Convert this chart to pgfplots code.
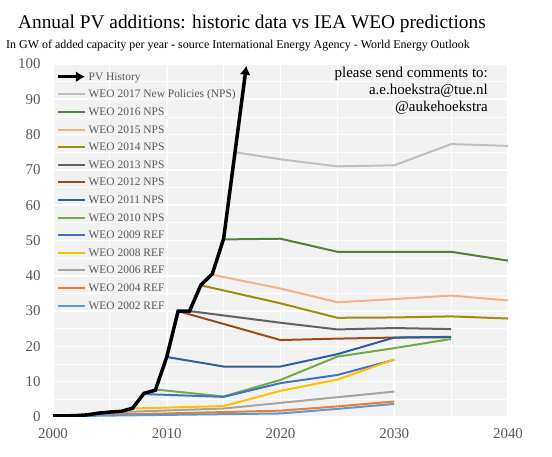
\documentclass[border=0pt]{standalone}
\usepackage{fontspec}
\setmainfont{Liberation Serif}
\usepackage{pgfplots}
\pgfplotsset{compat=1.18}
\usetikzlibrary{arrows.meta}
\definecolor{bgc}{HTML}{F2F2F2}
\definecolor{tickc}{HTML}{595959}
\definecolor{c17}{HTML}{BFBFBF}
\definecolor{c16}{HTML}{548235}
\definecolor{c15}{HTML}{F4B183}
\definecolor{c14}{HTML}{A08C10}
\definecolor{c13}{HTML}{636363}
\definecolor{c12}{HTML}{9E4A1C}
\definecolor{c11}{HTML}{2F5F9E}
\definecolor{c10}{HTML}{70AD47}
\definecolor{c09}{HTML}{4472C4}
\definecolor{c08}{HTML}{FFC000}
\definecolor{c06}{HTML}{A5A5A5}
\definecolor{c04}{HTML}{ED7D31}
\definecolor{c02}{HTML}{5B9BD5}
\begin{document}
\begin{tikzpicture}[x=1bp,y=1bp]
\path[use as bounding box] (0,0) rectangle (552,457);
\node[anchor=base west,inner sep=0pt,font=\fontsize{19.4}{23}\selectfont] at (18,428) {Annual PV additions: historic data vs IEA WEO predictions};
\node[anchor=base west,inner sep=0pt,font=\fontsize{12}{14}\selectfont] at (6,408) {In GW of added capacity per year - source International Energy Agency - World Energy Outlook};
\begin{axis}[
  at={(53bp,40bp)}, anchor=south west,
  scale only axis, width=455bp, height=353bp,
  xmin=2000, xmax=2040, ymin=0, ymax=100,
  xtick={2000,2010,2020,2030,2040},
  ytick={0,10,...,100},
  minor tick num=1,
  grid=both,
  major grid style={white, line width=1.6bp},
  minor grid style={white, line width=0.8bp},
  axis line style={draw=none},
  major tick length=0pt, minor tick length=0pt,
  axis background/.style={fill=bgc},
  /pgf/number format/assume math mode=true,
  /pgf/number format/1000 sep={},
  tick label style={font=\fontsize{15}{17}\selectfont, text=tickc},
  yticklabel style={xshift=-9bp},
  xticklabel style={yshift=-8bp},
  clip=true,
  legend style={at={(0.0,0.995)}, anchor=north west, draw=none, fill=none,
    font=\fontsize{11.5}{13}\selectfont, text=tickc,
    nodes={inner ysep=2.8bp, text height=9.5bp, text depth=2.5bp},
    row sep=0pt},
  legend cell align=left,
  legend image code/.code={\draw[#1] (0bp,0bp) -- (27bp,0bp);},
  every axis plot/.append style={line width=2bp},
]
\addplot[black, line width=3.5bp, legend image code/.code={\draw[black,line width=3.5bp,-{Latex[length=9bp,width=11bp]}] (0bp,0bp) -- (27bp,0bp);}] coordinates {(2000,0.3)};
\addlegendentry{PV History}
\addplot[c17] coordinates {(2016,75) (2020,73) (2025,71) (2030,71.3) (2035,77.3) (2040,76.8)};
\addlegendentry{WEO 2017 New Policies (NPS)}
\addplot[c16] coordinates {(2015,50.3) (2020,50.5) (2025,46.8) (2030,46.8) (2035,46.8) (2040,44.3)};
\addlegendentry{WEO 2016 NPS}
\addplot[c15] coordinates {(2014,40.3) (2020,36.4) (2025,32.5) (2030,33.4) (2035,34.4) (2040,33)};
\addlegendentry{WEO 2015 NPS}
\addplot[c14] coordinates {(2013,37.3) (2020,32.2) (2025,28.1) (2030,28.2) (2035,28.5) (2040,27.9)};
\addlegendentry{WEO 2014 NPS}
\addplot[c13] coordinates {(2012,30) (2020,26.7) (2025,24.8) (2030,25.2) (2035,24.9)};
\addlegendentry{WEO 2013 NPS}
\addplot[c12] coordinates {(2011,30) (2020,21.8) (2025,22.2) (2030,22.5) (2035,22.6)};
\addlegendentry{WEO 2012 NPS}
\addplot[c11] coordinates {(2010,17) (2015,14.3) (2020,14.3) (2025,17.8) (2030,22.5) (2035,22.7)};
\addlegendentry{WEO 2011 NPS}
\addplot[c10] coordinates {(2009,7.8) (2015,5.8) (2020,10.5) (2025,17.1) (2030,19.5) (2035,22.1)};
\addlegendentry{WEO 2010 NPS}
\addplot[c09] coordinates {(2008,6.5) (2015,5.7) (2020,9.6) (2025,11.9) (2030,16.2)};
\addlegendentry{WEO 2009 REF}
\addplot[c08] coordinates {(2007,2.4) (2015,3.1) (2020,7.4) (2025,10.6) (2030,16.3)};
\addlegendentry{WEO 2008 REF}
\addplot[c06] coordinates {(2005,1.3) (2015,2.4) (2020,4.0) (2025,5.6) (2030,7.2)};
\addlegendentry{WEO 2006 REF}
\addplot[c04] coordinates {(2003,0.6) (2010,1.0) (2020,1.8) (2025,3.0) (2030,4.4)};
\addlegendentry{WEO 2004 REF}
\addplot[c02] coordinates {(2000,0.2) (2010,0.6) (2020,1.0) (2025,2.3) (2030,3.7)};
\addlegendentry{WEO 2002 REF}
\addplot[black, line width=3.5bp, -{Latex[length=9bp,width=11bp]}, forget plot] coordinates {
(2000,0.3) (2001,0.3) (2002,0.4) (2003,0.6) (2004,1.1) (2005,1.4) (2006,1.6) (2007,2.5)
(2008,6.7) (2009,7.6) (2010,17) (2011,30) (2012,30) (2013,37.4) (2014,40.5) (2015,50.5)
(2016,75) (2017,99.5)};
\end{axis}
\node[anchor=base east,inner sep=0pt,font=\fontsize{15}{17}\selectfont] at (488,379) {please send comments to:};
\node[anchor=base east,inner sep=0pt,font=\fontsize{15}{17}\selectfont] at (488,362) {a.e.hoekstra@tue.nl};
\node[anchor=base east,inner sep=0pt,font=\fontsize{15}{17}\selectfont] at (488,345) {@aukehoekstra};
\end{tikzpicture}
\end{document}
